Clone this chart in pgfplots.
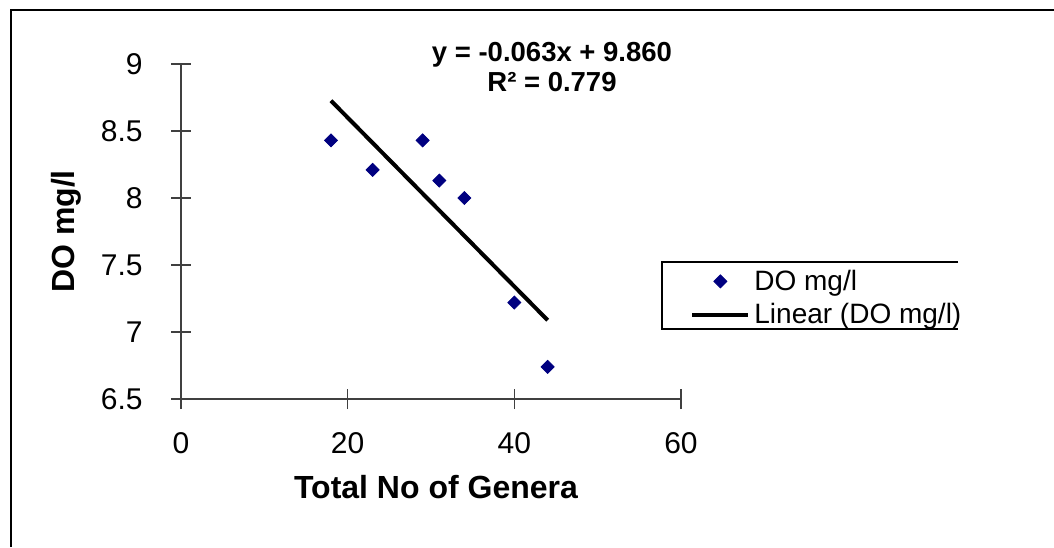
\documentclass[border=0pt]{standalone}
\usepackage{fontspec}
\setmainfont{Liberation Sans}
\usepackage{pgfplots}
\pgfplotsset{compat=1.18}
\definecolor{navy}{HTML}{000080}
\pgfplotsset{
  marklegend/.style={legend image code/.code={
    \draw[##1, draw=none, mark repeat=2, mark phase=2]
      plot coordinates {(0pt,0pt) (14pt,0pt) (28pt,0pt)};}},
  linelegend/.style={legend image code/.code={\draw[##1] (0pt,0pt) -- (28pt,0pt);}},
}
\begin{document}
\begin{tikzpicture}
\useasboundingbox (0,0) rectangle (527pt,273.5pt);
% outer frame (left and top only)
\draw[line width=1.2pt] (5.5pt,0) -- (5.5pt,268.5pt) -- (527pt,268.5pt);
\begin{axis}[
  at={(90.5pt,74pt)}, anchor=south west,
  scale only axis, width=250pt, height=167.5pt,
  xmin=0, xmax=60, ymin=6.5, ymax=9,
  xtick={0,20,40,60}, ytick={6.5,7,7.5,8,8.5,9},
  axis x line*=bottom, axis y line*=left,
  axis line style={black!75, line width=0.6pt},
  tick align=center, major tick length=10pt,
  tick style={black!75, line width=0.6pt},
  /pgf/number format/assume math mode=true,
  ticklabel style={font=\fontsize{15}{18}\selectfont},
  yticklabel style={anchor=east, inner sep=0pt, xshift=-14pt},
  xticklabel style={anchor=north, inner sep=0pt, yshift=-11.5pt},
  xlabel={Total No of Genera}, ylabel={DO mg/l},
  label style={font=\bfseries\fontsize{16}{18}\selectfont},
  xlabel style={at={(axis description cs:0.51,-0.263)}, anchor=center},
  ylabel style={at={(axis description cs:-0.23,0.5)}, anchor=center},
  legend style={at={(axis description cs:1.018,0.399)}, anchor=north west,
    draw=none, fill=none, inner sep=0pt, row sep=1pt,
    font=\fontsize{14}{17}\selectfont},
  legend cell align=left,
  clip=false,
]
\addplot[only marks, mark=square*, mark size=2.3pt,
  mark options={rotate=45, fill=navy, draw=navy}, marklegend]
  coordinates {(18,8.43) (23,8.21) (29,8.43) (31,8.13) (34,8.00) (40,7.22) (44,6.74)};
\addlegendentry{DO mg/l}
\addplot[black, line width=2pt, linelegend]
  coordinates {(18,8.726) (44,7.088)};
\addlegendentry{Linear (DO mg/l)}
\end{axis}
% legend border, right side cut off as in the source
\draw[line width=0.6pt] (479pt,142.5pt) -- (331pt,142.5pt) -- (331pt,109pt) -- (479pt,109pt);
\node[font=\bfseries\fontsize{13.75}{15}\selectfont, align=center] at (276pt,240pt)
  {y = -0.063x + 9.860\\R² = 0.779};
\end{tikzpicture}
\end{document}
